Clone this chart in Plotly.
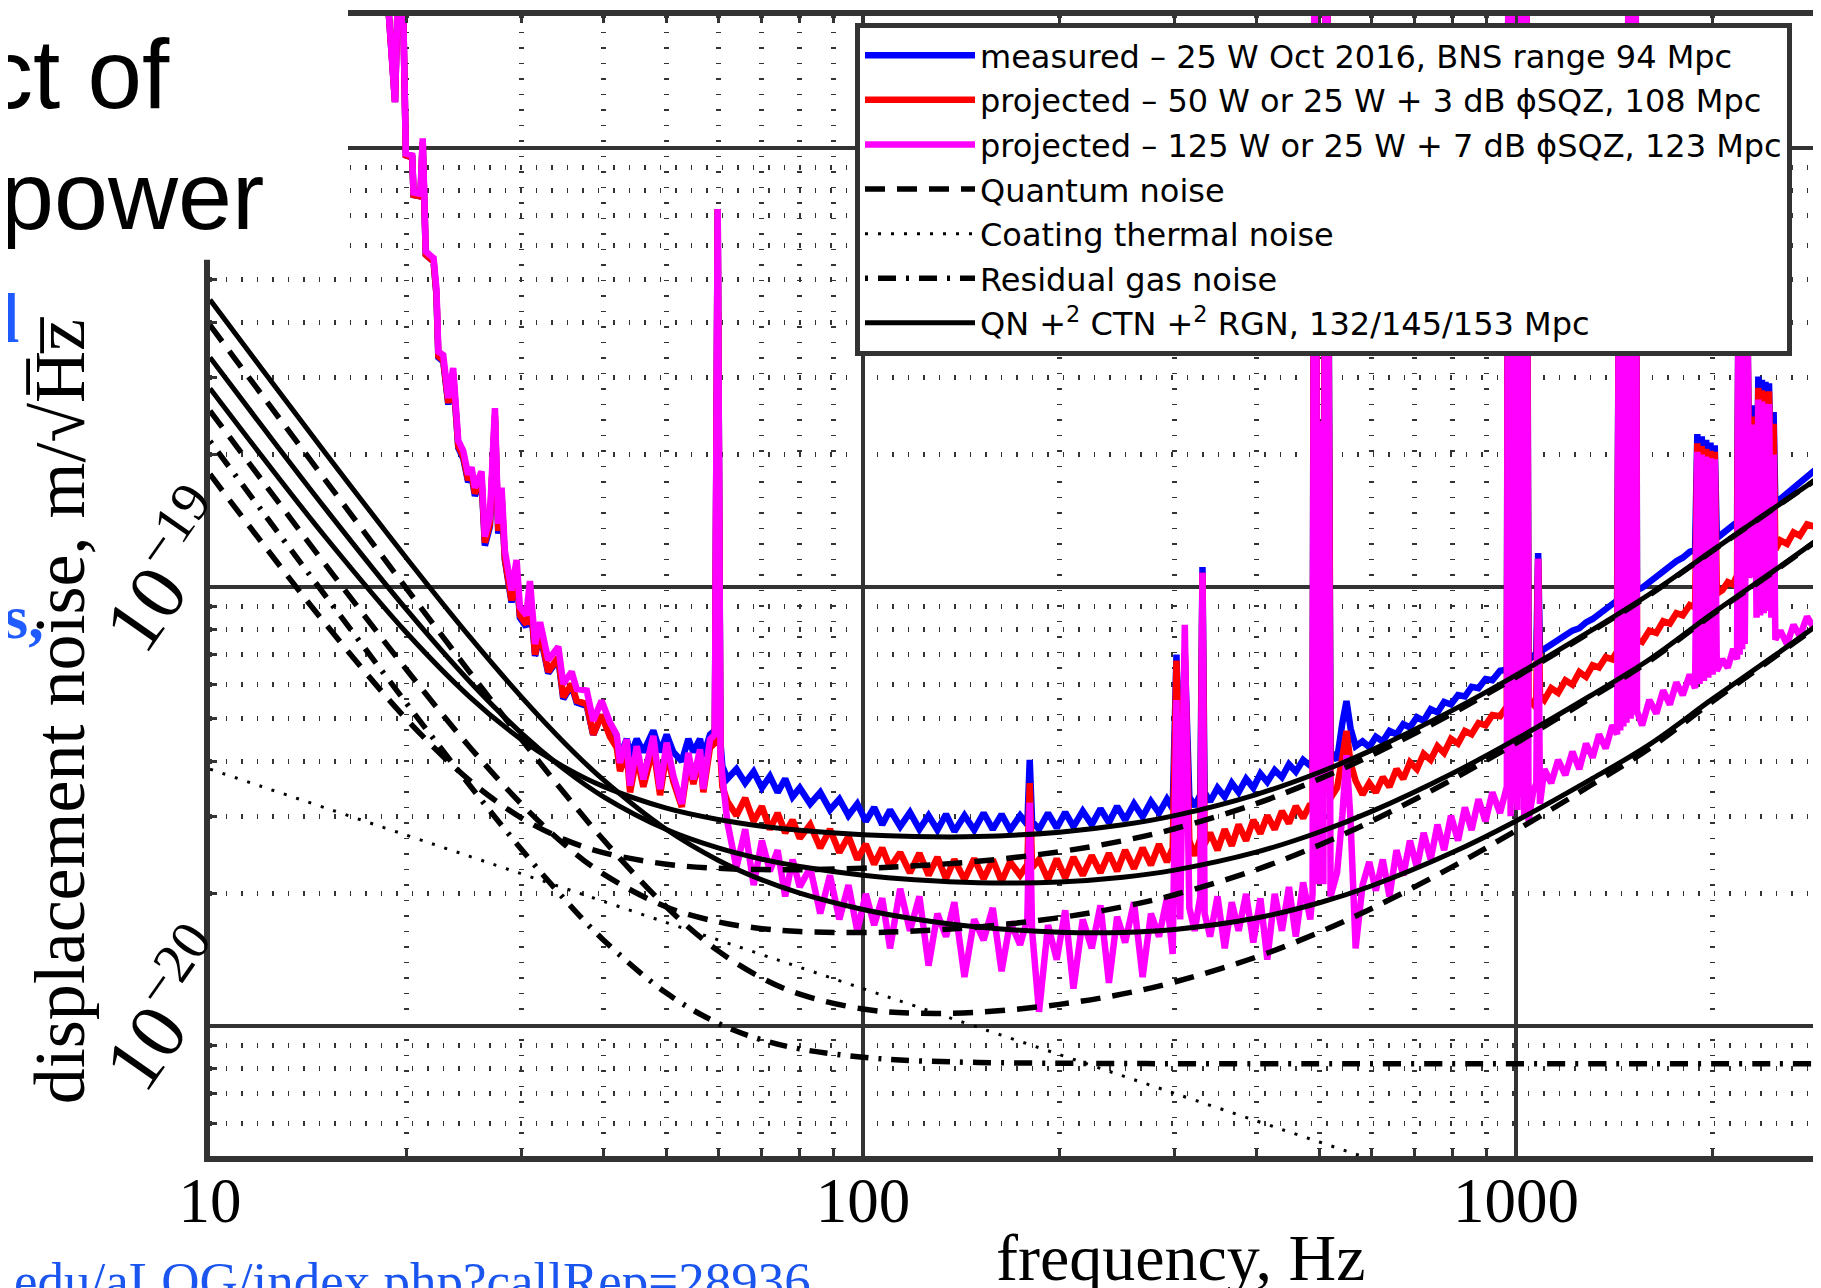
import plotly.graph_objects as go

# all noise values below are in units of 1e-20 m/sqrt(Hz)
UNIT = 1e-20

# ---------------- measured / projected spectra ----------------
freq_low = [18.0, 19.2, 19.6, 19.95, 20.4, 20.5, 21.0, 21.17, 21.4, 22.0,
            22.22, 22.37, 22.76, 22.9, 23.17, 23.57, 23.72, 24.0, 24.42, 24.85,
            25.15, 25.45, 26.05, 26.36, 26.83, 27.31, 27.63, 27.96, 28.28, 28.96,
            29.48, 29.82, 30.5, 30.9, 31.46, 32.02, 32.96, 34.15, 34.75, 35.79,
            36.43, 37.75, 38.62, 39.78, 40.98, 41.96, 42.45, 43.47, 43.98, 45.03,
            46.09, 47.74, 48.89, 50.04, 51.22, 52.78, 54.02, 54.98, 56.28, 56.95,
            58.3, 59.3, 59.9, 60.5, 60.9]
blue_low = [500, 127, 400, 96, 95, 78, 77.5, 103, 57, 55,
            46.3, 33.3, 32.6, 30.4, 26.0, 30.4, 26.4, 20.7, 19.6, 17.3,
            17.9, 16.1, 17.5, 12.4, 13.7, 24.4, 13.2, 16.0, 11.5, 9.2,
            10.8, 8.5, 8.1, 9.7, 6.95, 7.8, 6.35, 6.85, 5.55, 5.95,
            5.45, 5.35, 4.6, 5.1, 4.6, 4.4, 4.1, 4.5, 4.1, 4.5,
            4.2, 4.7, 4.2, 4.6, 4.2, 4.0, 4.5, 4.2, 4.5, 4.1,
            4.6, 4.7, 72.5, 4.4, 3.9]
red_low = [500, 127, 400, 96, 95, 78, 77.5, 103, 57, 55,
           46.5, 33.5, 32.8, 30.6, 26.2, 30.6, 26.6, 20.9, 19.8, 17.5,
           18.1, 16.3, 17.7, 12.6, 13.9, 24.6, 13.4, 16.2, 11.6, 9.3,
           10.9, 8.6, 8.2, 9.8, 7.0, 7.9, 6.4, 6.9, 5.6, 6.0,
           5.5, 5.4, 4.6, 5.1, 4.55, 4.3, 3.8, 4.2, 3.4, 4.1,
           3.5, 4.3, 3.35, 4.2, 3.6, 3.15, 4.0, 3.55, 4.1, 3.4,
           4.3, 4.4, 72.5, 4.1, 3.5]
mag_low = [500, 127, 400, 97, 96, 79, 78.5, 105, 58, 56,
           47.7, 34.3, 33.7, 31.5, 26.9, 31.5, 27.4, 21.5, 20.4, 18.0,
           18.7, 16.8, 18.3, 13.0, 14.4, 25.5, 13.9, 16.8, 12.1, 9.8,
           11.5, 9.0, 8.6, 10.3, 7.4, 8.3, 6.8, 7.3, 6.0, 6.4,
           5.85, 5.8, 4.95, 5.5, 4.9, 4.6, 3.97, 4.49, 3.52, 4.33,
           3.64, 4.57, 3.46, 4.41, 3.71, 3.2, 4.18, 3.64, 4.26, 3.46,
           4.49, 4.6, 72.5, 4.2, 3.7]

freq_high = [62, 64, 66, 68, 70, 72, 74, 76, 78, 80,
             83, 86, 89, 92, 95, 98, 101, 104, 107, 110,
             114, 118, 122, 126, 130, 134, 138, 143, 148, 153,
             158, 163, 168, 174, 178.5, 180, 181.5, 186, 192, 198,
             204, 210, 217, 224, 231, 238, 245, 252, 260, 268,
             276, 284, 292, 298, 302, 306, 311, 316, 322, 328.5,
             331, 333.5, 340, 349, 358, 367, 376, 386, 396, 406,
             416, 427, 438, 449, 460, 472, 484,
             488, 492, 497, 502, 507, 512, 520,
             532, 542, 550, 558, 568, 582, 596, 610, 625, 640,
             656, 672, 688, 705, 722, 740, 758, 776, 795, 815,
             835, 855, 876, 898, 920, 945,
             968, 975, 981, 987, 993, 999, 1005, 1011, 1017, 1023, 1029, 1035, 1045,
             1062, 1074, 1081, 1088, 1105, 1132, 1160, 1190, 1220, 1250,
             1280, 1310, 1340, 1372, 1404,
             1428, 1436, 1444, 1452, 1460, 1468, 1476, 1490, 1498, 1506, 1514, 1522, 1532,
             1560, 1600, 1640, 1680, 1720, 1760, 1800, 1845,
             1880, 1895, 1910, 1925, 1940, 1955, 1970, 1985, 2000, 2015, 2030,
             2070, 2110, 2150,
             2180, 2190, 2200, 2210, 2220, 2230, 2240, 2250, 2262,
             2275, 2300,
             2320, 2335, 2350, 2365, 2380, 2395, 2410, 2425, 2440, 2460, 2480, 2495,
             2540, 2600, 2660, 2720, 2790, 2860, 2930, 3000]
blue_high = [3.65, 3.84, 3.57, 3.79, 3.48, 3.70, 3.40, 3.65, 3.32, 3.48,
             3.20, 3.40, 3.10, 3.28, 3.01, 3.20, 2.92, 3.14, 2.87, 3.10,
             2.84, 3.06, 2.80, 3.01, 2.79, 3.03, 2.77, 3.01, 2.79, 3.05,
             2.80, 3.03, 2.79, 3.01, 2.87, 4.03, 2.92, 2.80, 3.05, 2.82,
             3.06, 2.84, 3.08, 2.87, 3.12, 2.90, 3.16, 2.94, 3.20, 2.99,
             3.24, 3.05, 3.28, 3.12, 7.00, 3.24, 7.04, 3.32, 3.16, 3.36,
             11.08, 3.40, 3.24, 3.48, 3.32, 3.57, 3.40, 3.65, 3.48, 3.75,
             3.59, 3.82, 3.68, 3.94, 3.79, 4.03, 3.91,
             4.05, 1000, 4.3, 23.8, 4.3, 1000, 4.21,
             4.03, 4.89, 5.49, 4.75, 4.33, 4.44, 4.31, 4.55, 4.44, 4.69,
             4.61, 4.86, 4.78, 5.04, 4.95, 5.26, 5.17, 5.46, 5.39, 5.66,
             5.62, 5.91, 5.87, 6.16, 6.12, 6.43,
             6.47, 1000, 6.5, 1000, 6.5, 1000, 6.6, 1000, 6.6, 1000, 6.7, 1000, 6.79,
             6.96, 7.04, 11.92, 7.12, 7.21, 7.39, 7.57, 7.71, 7.94, 8.04,
             8.29, 8.44, 8.65, 8.92, 9.08,
             9.30, 40, 9.3, 40, 9.4, 40, 9.5, 1000, 9.6, 1000, 9.7, 1000, 9.82,
             9.94, 10.24, 10.49, 10.88, 11.08, 11.43, 11.64, 12.0,
             12.14, 22.26, 12.4, 22.0, 12.5, 21.6, 12.6, 21.3, 12.7, 21.0, 12.90,
             13.22, 13.54, 13.79,
             14.04, 40, 14.2, 40, 14.4, 40, 14.6, 40, 40,
             17.14, 17.46,
             25.9, 15.0, 30.1, 15.2, 29.6, 15.3, 29.3, 15.4, 29.05, 15.5, 25.0, 15.47,
             15.85, 16.34, 16.84, 17.25, 17.9, 18.44, 19.0, 19.48]
red_high = [3.24, 3.01, 3.30, 2.92, 3.16, 2.80, 3.05, 2.75, 2.94, 2.67,
            2.87, 2.54, 2.80, 2.48, 2.70, 2.39, 2.59, 2.33, 2.54, 2.29,
            2.48, 2.23, 2.47, 2.20, 2.42, 2.16, 2.39, 2.15, 2.40, 2.16,
            2.39, 2.13, 2.36, 2.20, 2.33, 3.57, 2.29, 2.39, 2.15, 2.40,
            2.17, 2.42, 2.20, 2.44, 2.23, 2.47, 2.25, 2.51, 2.28, 2.54,
            2.32, 2.59, 2.36, 2.54, 6.79, 2.51, 7.04, 2.64, 2.44, 2.67,
            10.75, 2.59, 2.75, 2.51, 2.80, 2.57, 2.87, 2.64, 2.94, 2.74,
            3.01, 2.80, 3.08, 2.89, 3.16, 2.97, 3.20,
            3.12, 1000, 3.3, 23.8, 3.3, 1000, 3.30,
            3.48, 4.08, 4.69, 3.96, 3.61, 3.36, 3.57, 3.40, 3.68, 3.50,
            3.84, 3.65, 3.98, 3.84, 4.16, 4.03, 4.33, 4.18, 4.50, 4.39,
            4.69, 4.61, 4.89, 4.83, 5.10, 5.07,
            5.33, 1000, 5.35, 1000, 5.4, 1000, 5.4, 1000, 5.45, 1000, 5.5, 1000, 5.52,
            5.39, 5.59, 11.57, 5.66, 5.52, 5.87, 5.73, 6.12, 5.98, 6.39,
            6.23, 6.62, 6.54, 6.91, 6.83,
            7.12, 40, 7.2, 40, 7.2, 40, 7.3, 1000, 7.4, 1000, 7.5, 1000, 7.57,
            7.48, 7.94, 7.85, 8.34, 8.24, 8.70, 8.60, 9.08,
            8.97, 21.2, 9.1, 20.9, 9.2, 20.6, 9.3, 20.4, 9.4, 20.3, 9.64,
            9.82, 10.24, 10.12,
            10.62, 40, 10.8, 40, 11.0, 40, 11.2, 40, 40,
            16.44, 16.64,
            24.4, 13.0, 28.4, 13.1, 28.0, 13.2, 27.8, 13.3, 27.85, 13.0, 23.5, 12.14,
            12.75, 12.52, 13.30, 13.06, 13.87, 13.70, 14.39, 14.56]
mag_high = [2.90, 2.29, 2.80, 2.09, 2.64, 2.25, 2.51, 1.97, 2.39, 2.07,
            2.29, 1.80, 2.20, 1.746, 2.09, 1.644, 1.995, 1.694, 1.95, 1.50,
            2.05, 1.644, 1.97, 1.37, 1.80, 1.595, 1.91, 1.29, 1.746, 1.566,
            1.855, 1.33, 1.725, 1.528, 1.746, 3.22, 1.644, 1.075, 1.694, 1.413,
            1.83, 1.214, 1.746, 1.50, 1.88, 1.251, 1.77, 1.547, 1.91, 1.29,
            1.80, 1.595, 1.95, 1.456, 5.52, 1.746, 8.19, 1.855, 1.644, 1.97,
            10.75, 1.80, 1.595, 1.97, 1.50, 1.91, 1.644, 1.995, 1.547, 1.95,
            1.413, 1.995, 1.644, 2.07, 1.595, 2.12, 1.746,
            2.0, 1000, 2.1, 23.8, 2.1, 1000, 1.97,
            2.23, 3.01, 4.13, 2.92, 1.50, 2.09, 2.36, 2.03, 2.39, 1.97,
            2.51, 2.20, 2.64, 2.29, 2.75, 2.39, 2.87, 2.51, 3.01, 2.64,
            3.14, 2.79, 3.28, 2.92, 3.40, 3.05,
            3.50, 1000, 3.0, 1000, 3.2, 1000, 3.1, 1000, 3.3, 1000, 3.0, 1000, 2.92,
            3.40, 3.57, 11.57, 3.20, 3.84, 3.57, 4.03, 3.72, 4.21, 3.84,
            4.39, 4.08, 4.61, 4.28, 4.83,
            4.61, 40, 4.7, 40, 4.8, 40, 4.9, 1000, 5.0, 1000, 5.1, 1000, 5.20,
            4.83, 5.52, 5.14, 5.80, 5.39, 6.05, 5.66, 6.31,
            5.87, 20.3, 6.0, 20.0, 6.1, 19.8, 6.2, 19.6, 6.3, 19.5, 6.43,
            6.83, 6.54, 7.21,
            6.83, 40, 7.0, 40, 7.2, 40, 7.4, 40, 40,
            10.5, 11.0,
            23.4, 8.5, 26.7, 8.6, 26.4, 8.7, 26.1, 8.8, 26.06, 8.5, 20.0, 7.57,
            7.94, 7.39, 8.19, 7.71, 8.54, 8.04, 8.86, 8.44]

# ---------------- noise budget curves ----------------
freq_model = [10, 12, 15, 20, 25, 30, 35, 40, 50, 60, 70, 80, 100, 120, 150,
              200, 250, 300, 400, 500, 600, 800, 1000, 1300, 1600, 2000, 2500, 3000]
qn_25w = [18.03, 12.62, 8.254, 4.988, 3.614, 2.971, 2.649, 2.479, 2.332, 2.282,
          2.267, 2.266, 2.283, 2.312, 2.368, 2.490, 2.638, 2.809, 3.203, 3.648,
          4.127, 5.150, 6.222, 7.879, 9.569, 12.07, 15.18, 18.28]
qn_50w = [25.15, 17.50, 11.26, 6.466, 4.308, 3.196, 2.577, 2.216, 1.863, 1.723,
          1.663, 1.638, 1.629, 1.642, 1.678, 1.762, 1.866, 1.987, 2.265, 2.580,
          2.919, 3.642, 4.401, 5.573, 6.768, 8.65, 10.9, 13.27]
qn_125w = [39.41, 27.38, 17.54, 9.899, 6.380, 4.487, 3.364, 2.654, 1.863, 1.480,
           1.284, 1.179, 1.091, 1.068, 1.073, 1.118, 1.181, 1.257, 1.433, 1.632,
           1.846, 2.303, 2.783, 3.524, 4.280, 5.48, 6.95, 8.45]
ctn = [3.84, 3.505, 3.135, 2.715, 2.429, 2.217, 2.053, 1.92, 1.717, 1.568,
       1.451, 1.358, 1.214, 1.109, 0.991, 0.859, 0.768, 0.701, 0.607, 0.543,
       0.496, 0.429, 0.384]
rgn = [21.45, 14.90, 9.559, 5.420, 3.525, 2.518, 1.932, 1.570, 1.186, 1.012,
       0.928, 0.885, 0.847, 0.832, 0.8245, 0.8208, 0.8197, 0.819, 0.819, 0.819,
       0.819, 0.819, 0.819, 0.819, 0.819, 0.819, 0.819, 0.819]
tot_25w = [28.28, 19.84, 13.01, 7.850, 5.603, 4.482, 3.869, 3.507, 3.129, 2.948,
           2.847, 2.786, 2.721, 2.696, 2.696, 2.759, 2.867, 3.009, 3.361, 3.778,
           4.237, 5.232, 6.287, 7.929, 9.609, 12.1, 15.2, 18.3]
tot_50w = [33.28, 23.25, 15.10, 8.863, 6.074, 4.634, 3.820, 3.326, 2.797, 2.540,
           2.394, 2.304, 2.201, 2.149, 2.116, 2.125, 2.178, 2.261, 2.484, 2.761,
           3.072, 3.758, 4.493, 5.643, 6.824, 8.7, 10.95, 13.3]
tot_125w = [45.03, 31.37, 20.22, 11.61, 7.683, 5.603, 4.389, 3.633, 2.797, 2.382,
            2.148, 2.004, 1.839, 1.750, 1.677, 1.632, 1.630, 1.656, 1.758, 1.905,
            2.080, 2.482, 2.926, 3.634, 4.368, 5.55, 7.0, 8.5]

# ---------------- axes ----------------
x_ticks = [10, 100, 1000]
x_tick_labels = ["10", "100", "1000"]
x_minor = [20, 30, 40, 50, 60, 70, 80, 90, 200, 300, 400, 500, 600, 700, 800, 900, 2000, 3000]
y_ticks = [1e-20, 1e-19, 1e-18]
y_tick_labels = ["10<sup>\u221220</sup>", "10<sup>\u221219</sup>", ""]
y_minor = [6e-21, 7e-21, 8e-21, 9e-21,
           2e-20, 3e-20, 4e-20, 5e-20, 6e-20, 7e-20, 8e-20, 9e-20,
           2e-19, 3e-19, 4e-19, 5e-19, 6e-19, 7e-19, 8e-19, 9e-19]

names = {
    "blue": "measured \u2013 25 W Oct 2016, BNS range 94 Mpc",
    "red": "projected \u2013 50 W or 25 W + 3 dB \u03d5SQZ, 108 Mpc",
    "mag": "projected \u2013 125 W or 25 W + 7 dB \u03d5SQZ, 123 Mpc",
    "qn": "Quantum noise",
    "ctn": "Coating thermal noise",
    "rgn": "Residual gas noise",
    "tot": "QN +<sup>2</sup> CTN +<sup>2</sup> RGN, 132/145/153 Mpc",
}

for a, b in [(freq_low, blue_low), (freq_low, red_low), (freq_low, mag_low),
             (freq_high, blue_high), (freq_high, red_high), (freq_high, mag_high)]:
    assert len(a) == len(b), (len(a), len(b))


def sc(v):
    return [a * UNIT for a in v]


fig = go.Figure()
spec = [("blue", "#0000ff", blue_low + blue_high),
        ("red", "#ff0000", red_low + red_high),
        ("mag", "#ff00ff", mag_low + mag_high)]
for key, col, vals in spec:
    fig.add_trace(go.Scatter(x=freq_low + freq_high, y=sc(vals), mode="lines",
                             name=names[key], line=dict(color=col, width=6.5)))

DASH = "20px,12px"
for i, q in enumerate([qn_25w, qn_50w, qn_125w]):
    fig.add_trace(go.Scatter(x=freq_model, y=sc(q), mode="lines", name=names["qn"],
                             showlegend=(i == 0),
                             line=dict(color="black", width=5.5, dash=DASH, shape="spline")))
fig.add_trace(go.Scatter(x=freq_model[:len(ctn)], y=sc(ctn), mode="lines", name=names["ctn"],
                         line=dict(color="black", width=3, dash="3px,10px", shape="spline")))
fig.add_trace(go.Scatter(x=freq_model, y=sc(rgn), mode="lines", name=names["rgn"],
                         line=dict(color="black", width=5.5, dash="3px,10px,18px,10px",
                                   shape="spline")))
for i, t in enumerate([tot_25w, tot_50w, tot_125w]):
    fig.add_trace(go.Scatter(x=freq_model, y=sc(t), mode="lines", name=names["tot"],
                             showlegend=(i == 0),
                             line=dict(color="black", width=5, shape="spline")))

AX = "#333333"
# the page is offset by the 8 px default body margin: compensate in the margins
OFF = 8
W, H = 1821, 1288
L, R, T, B = 210 - OFF, OFF, 10 - OFF, 132 + OFF
PW, PH = W - L - R, H - T - B
PLOT_BOTTOM = H - B + OFF  # window pixel row of the x axis


def px_x(p):
    return (p - OFF - L) / PW


def px_y(p):
    return (PLOT_BOTTOM - p) / PH


fig.update_layout(
    width=W, height=H, margin=dict(l=L, r=R, t=T, b=B),
    paper_bgcolor="white", plot_bgcolor="white",
    font=dict(family="Liberation Serif", size=63, color="black"),
    legend=dict(x=px_x(855), y=px_y(17), xanchor="left", yanchor="top",
                bgcolor="white", bordercolor=AX, borderwidth=5,
                font=dict(family="DejaVu Sans", size=32, color="black"),
                itemwidth=110, tracegroupgap=0),
)
fig.update_xaxes(type="log", range=[1, 3.467], tickvals=x_ticks, ticktext=x_tick_labels,
                 ticks="inside", ticklen=10, tickwidth=3, tickcolor=AX,
                 showline=True, linewidth=6, linecolor=AX, mirror="allticks",
                 showgrid=True, gridcolor=AX, gridwidth=4, zeroline=False,
                 tickfont=dict(family="Liberation Serif", size=63), ticklabelstandoff=-16,
                 minor=dict(tickvals=x_minor, ticks="inside", ticklen=7, tickwidth=3,
                            tickcolor=AX, showgrid=True, gridcolor=AX, gridwidth=5,
                            griddash="1.5px,14px"))
fig.update_yaxes(type="log", range=[-20.297, -17.70], tickvals=y_ticks, ticktext=y_tick_labels,
                 tickangle=-55, ticks="inside", ticklen=10, tickwidth=3, tickcolor=AX,
                 showline=True, linewidth=6, linecolor=AX, mirror=False,
                 showgrid=True, gridcolor=AX, gridwidth=4, zeroline=False,
                 tickfont=dict(family="Liberation Serif", size=80),
                 ticklabelshift=-78, ticklabelstandoff=-20,
                 minor=dict(tickvals=y_minor, ticks="inside", ticklen=7, tickwidth=3,
                            tickcolor=AX, showgrid=True, gridcolor=AX, gridwidth=5,
                            griddash="1.5px,14px"))

# white title box of the slide covering the top-left corner of the plot
fig.add_shape(type="rect", xref="paper", yref="paper", x0=px_x(-20), x1=px_x(348),
              y0=px_y(255), y1=px_y(-20), fillcolor="white", line=dict(width=0), layer="above")

ann = []
ann.append(dict(text="displacement noise, m/\u221aH\u0305z\u0305", x=px_x(60), y=px_y(708),
                textangle=-90, font=dict(family="Liberation Serif", size=72)))
ann.append(dict(text="frequency, Hz", x=px_x(1181), y=px_y(1258),
                font=dict(family="Liberation Serif", size=66)))
ann.append(dict(text="ct of", x=px_x(172), y=px_y(68), xanchor="right",
                font=dict(family="Liberation Sans", size=98)))
ann.append(dict(text="power", x=px_x(266), y=px_y(190), xanchor="right",
                font=dict(family="Liberation Sans", size=97)))
ann.append(dict(text="<b>l</b>", x=px_x(21), y=px_y(314), xanchor="right",
                font=dict(family="Liberation Serif", size=70, color="#1f5bff")))
ann.append(dict(text="<b>s,</b>", x=px_x(46), y=px_y(614), xanchor="right",
                font=dict(family="Liberation Serif", size=62, color="#1f5bff")))
ann.append(dict(text="edu/aLOG/index.php?callRep=28936", x=px_x(12), y=px_y(1250),
                xanchor="left", yanchor="top",
                font=dict(family="Liberation Serif", size=53, color="#1a55f0")))
for a in ann:
    a.setdefault("xref", "paper")
    a.setdefault("yref", "paper")
    a.setdefault("showarrow", False)
    a.setdefault("xanchor", "center")
    a.setdefault("yanchor", "middle")
fig.update_layout(annotations=ann)

fig.write_html("out.html")
